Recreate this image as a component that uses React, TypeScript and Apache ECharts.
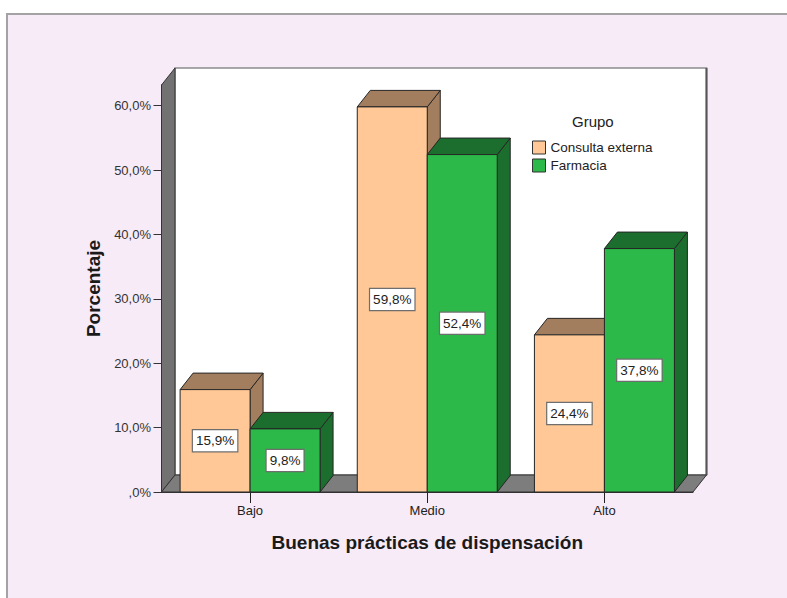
import React, { useEffect, useRef } from 'react';
import * as echarts from 'echarts';

const categories = ['Bajo', 'Medio', 'Alto'];
const seriesNames = ['Consulta externa', 'Farmacia'];
const consultaExterna = [15.9, 59.8, 24.4];
const farmacia = [9.8, 52.4, 37.8];
const yTicks = [0, 10, 20, 30, 40, 50, 60];
const yMax = 63.2;

const frontColors = ['#FFC896', '#2DB84A'];
const shadeColors = ['#A27E5E', '#1B6E2D'];
const WD = [13.5, -17];
const BD = [13, -16.5];
const FONT = '"Liberation Sans", Arial, sans-serif';

const fmt = (v: number) => {
  const s = v.toFixed(1).replace('.', ',');
  return (s.startsWith('0,') ? s.slice(1) : s) + '%';
};

const renderWalls = (params: any) => {
  const cs = params.coordSys;
  const x = cs.x, y = cs.y, w = cs.width, h = cs.height;
  const [dx, dy] = WD;
  return {
    type: 'group',
    children: [
      { type: 'rect', shape: { x: x + dx, y: y + dy, width: w, height: h }, style: { fill: '#ffffff', stroke: '#8c8c8c', lineWidth: 1.5 } },
      { type: 'line', shape: { x1: x + w + dx, y1: y + dy, x2: x + w + dx, y2: y + h + dy }, style: { stroke: '#555', lineWidth: 2 } },
      { type: 'polygon', shape: { points: [[x, y], [x + dx, y + dy], [x + dx, y + h + dy], [x, y + h]] }, style: { fill: '#727272', stroke: '#333', lineWidth: 1 } },
      { type: 'polygon', shape: { points: [[x, y + h], [x + dx, y + h + dy], [x + w + dx, y + h + dy], [x + w, y + h]] }, style: { fill: '#7d7d7d', stroke: '#333', lineWidth: 1 } },
    ],
  };
};

const makeBarRender = (si: number) => (params: any, api: any) => {
  const c = api.value(0);
  const v = api.value(1);
  const top = api.coord([c, v]);
  const base = api.coord([c, 0]);
  const band = api.size([1, 0])[0];
  const bw = band * 0.395;
  const x0 = si === 0 ? top[0] - bw : top[0];
  const ty = top[1];
  const by = base[1];
  const [dx, dy] = BD;
  const edge = { stroke: '#262626', lineWidth: 1 };
  return {
    type: 'group',
    children: [
      { type: 'polygon', shape: { points: [[x0 + bw, ty], [x0 + bw + dx, ty + dy], [x0 + bw + dx, by + dy], [x0 + bw, by]] }, style: { fill: shadeColors[si], ...edge } },
      { type: 'polygon', shape: { points: [[x0, ty], [x0 + dx, ty + dy], [x0 + bw + dx, ty + dy], [x0 + bw, ty]] }, style: { fill: shadeColors[si], ...edge } },
      { type: 'rect', shape: { x: x0, y: ty, width: bw, height: by - ty }, style: { fill: frontColors[si], ...edge } },
      {
        type: 'text',
        x: x0 + bw / 2,
        y: (ty + by) / 2,
        style: {
          text: fmt(v),
          align: 'center',
          verticalAlign: 'middle',
          fontSize: 13.5,
          fontFamily: FONT,
          fill: '#222',
          backgroundColor: '#ffffff',
          borderColor: '#6e6e6e',
          borderWidth: 1.2,
          padding: [4, 3, 3, 3],
        },
      },
    ],
  };
};

export default function App() {
  const ref = useRef<HTMLDivElement>(null);
  useEffect(() => {
    if (!ref.current) return;
    const chart = echarts.init(ref.current, undefined, { renderer: 'svg' });
    const values = [consultaExterna, farmacia];
    chart.setOption({
      animation: false,
      backgroundColor: '#ffffff',
      textStyle: { fontFamily: FONT },
      graphic: [
        { type: 'rect', z: -10, silent: true, shape: { x: 7, y: 14, width: 800, height: 600 }, style: { fill: '#F7EBF8', stroke: '#A3A3A3', lineWidth: 2 } },
      ],
      title: {
        text: 'Grupo',
        left: 572,
        top: 114,
        padding: 0,
        textStyle: { fontSize: 15, fontWeight: 'normal', color: '#222', fontFamily: FONT },
      },
      legend: {
        data: seriesNames,
        orient: 'vertical',
        left: 532,
        top: 139.5,
        padding: 0,
        icon: 'rect',
        itemWidth: 13,
        itemHeight: 13,
        itemGap: 2,
        selectedMode: false,
        itemStyle: { borderColor: '#333', borderWidth: 1 },
        textStyle: { fontSize: 13.5, lineHeight: 16, color: '#222', fontFamily: FONT, padding: [0, 0, 0, 0] },
      },
      grid: { left: 161.5, top: 85, width: 531.5, height: 407 },
      xAxis: {
        type: 'category',
        data: categories,
        name: 'Buenas prácticas de dispensación',
        nameLocation: 'middle',
        nameGap: 41,
        nameTextStyle: { fontSize: 19, fontWeight: 'bold', color: '#1a1a1a', fontFamily: FONT },
        axisLine: { show: true, lineStyle: { color: '#333', width: 1 } },
        axisTick: { show: true, alignWithLabel: true, length: 11, lineStyle: { color: '#222', width: 1 } },
        axisLabel: { margin: 12, fontSize: 13, color: '#222', fontFamily: FONT },
        splitLine: { show: false },
      },
      yAxis: {
        type: 'value',
        min: 0,
        max: yMax,
        interval: 10,
        name: 'Porcentaje',
        nameLocation: 'middle',
        nameRotate: 90,
        nameGap: 58,
        nameTextStyle: { fontSize: 19, fontWeight: 'bold', color: '#1a1a1a', fontFamily: FONT },
        axisLine: { show: true, lineStyle: { color: '#111', width: 1.5 } },
        axisTick: { show: true, length: 8, customValues: yTicks, lineStyle: { color: '#333', width: 1 } },
        axisLabel: { customValues: yTicks, margin: 10.5, fontSize: 13, color: '#333', fontFamily: FONT, formatter: (v: number) => fmt(v) },
        splitLine: { show: false },
      },
      series: [
        {
          type: 'custom',
          name: 'walls',
          silent: true,
          renderItem: renderWalls,
          data: [[0, 0]],
          encode: { x: 0, y: 1 },
        },
        ...seriesNames.map((name, si) => ({
          type: 'custom',
          name,
          renderItem: makeBarRender(si),
          itemStyle: { color: frontColors[si], borderColor: '#333', borderWidth: 1 },
          data: values[si].map((v, i) => [i, v]),
          encode: { x: 0, y: 1 },
        })),
      ],
    });
    return () => chart.dispose();
  }, []);
  return <div ref={ref} style={{ position: 'fixed', left: 0, top: 0, width: 787, height: 598 }} />;
}
